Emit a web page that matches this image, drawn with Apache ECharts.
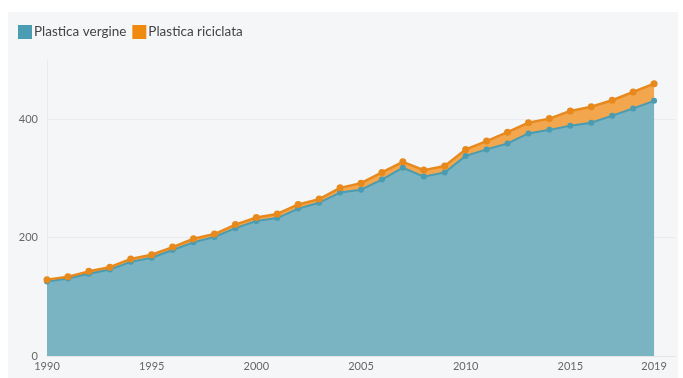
<!DOCTYPE html>
<html><head><meta charset="utf-8">
<script src="https://cdn.jsdelivr.net/npm/echarts@6/dist/echarts.min.js"></script>
<style>
html,body{margin:0;padding:0;background:#ffffff;}
#panel{position:absolute;left:8px;top:12px;width:670px;height:366px;background:#f5f6f8;}
#chart{position:absolute;left:0;top:0;width:683px;height:378px;}
</style></head>
<body>
<div id="panel"></div>
<div id="chart"></div>
<script>
var years = ['1990','1991','1992','1993','1994','1995','1996','1997','1998','1999','2000','2001','2002','2003','2004','2005','2006','2007','2008','2009','2010','2011','2012','2013','2014','2015','2016','2017','2018','2019','2020'];
var vergine = [126,131,139,146,159,166,179,192,201,216,228,233,249,259,276,281,298,318,303,310,338,349,359,376,382,389,394,406,418,431];
var riciclata = [3,3,4,4,5,5,5,6,5,6,6,7,7,6,8,11,12,10,11,11,11,14,19,18,19,25,27,26,28,29];
var yTicks = [0,200,400];

var chart = echarts.init(document.getElementById('chart'), null, {renderer:'canvas'});
var font = 'Lato, "Open Sans", sans-serif';
chart.setOption({
  backgroundColor: 'transparent',
  animation: false,
  legend: {
    left: 13, top: 20, itemWidth: 14, itemHeight: 14, itemGap: 6,
    icon: 'rect',
    textStyle: {color:'#444', fontSize: 13.5, fontFamily: font, padding:[0,0,0,-3]},
    data: [{name:'Plastica vergine', itemStyle:{color:'#4a9cb2', borderWidth:0}}, {name:'Plastica riciclata', itemStyle:{color:'#f0890f', borderWidth:0}}]
  },
  grid: {left: 47, right: 8, top: 60, bottom: 22, containLabel: false},
  xAxis: {
    type: 'category', data: years, boundaryGap: false,
    axisLine: {show: true, lineStyle: {color: '#e3e5e8'}},
    axisTick: {show: false},
    axisLabel: {color:'#666', fontSize: 11, fontFamily: font, margin: 5,
      interval: function(i){ return (i % 5 === 0 && i <= 25) || i === 29; }},
    splitLine: {show: false}
  },
  yAxis: {
    type: 'value', min: 0, max: 500, interval: 100,
    axisLine: {show: true, lineStyle: {color: '#e8eaed'}},
    axisTick: {show: false},
    axisLabel: {color:'#666', fontSize: 11, fontFamily: font, margin: 9,
      formatter: function(v){ return yTicks.indexOf(v) >= 0 ? String(v) : ''; }},
    splitLine: {show: true, lineStyle: {color: ['#e9ebee','#f5f6f8']}}
  },
  series: [
    {name:'Plastica vergine', type:'line', stack:'tot', data: vergine,
     symbol:'circle', symbolSize: 6, showSymbol: true,
     lineStyle:{color:'#4a9cb2', width: 2},
     itemStyle:{color:'#4a9cb2'},
     areaStyle:{color:'#7ab3c2', opacity: 1}},
    {name:'Plastica riciclata', type:'line', stack:'tot', data: riciclata,
     symbol:'circle', symbolSize: 7, showSymbol: true,
     lineStyle:{color:'#e8891d', width: 2.5},
     itemStyle:{color:'#e8891d'},
     areaStyle:{color:'#f2a64e', opacity: 1}}
  ]
});
</script>
</body></html>
